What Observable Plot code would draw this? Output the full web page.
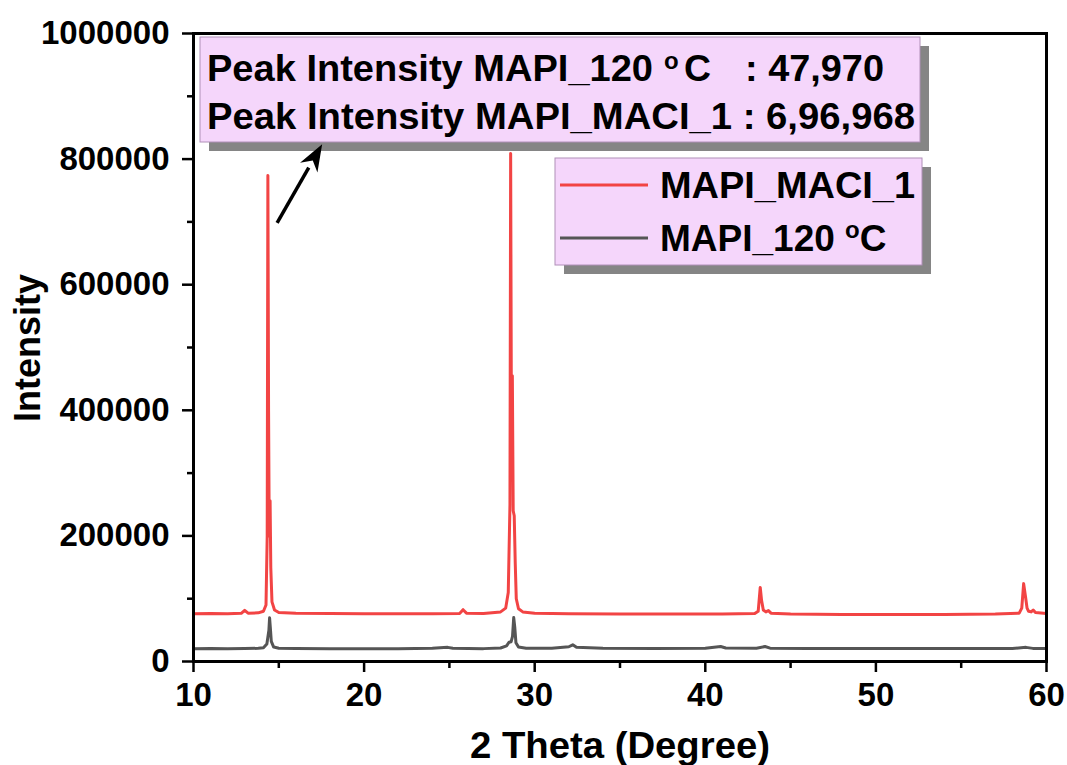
<!DOCTYPE html>
<html><head><meta charset="utf-8">
<script src="https://cdn.jsdelivr.net/npm/d3@7"></script>
<script src="https://cdn.jsdelivr.net/npm/@observablehq/plot@0.6"></script>
<style>
body{margin:0;background:#fff}
svg{font-family:"Liberation Sans",Arial,Helvetica,sans-serif}
</style>
</head><body><div id="chart"></div>
<script>
// ---- data ----
const maciX = [10.0,11.0,12.0,12.8,13.0,13.2,13.8,14.1,14.25,14.32,14.36,14.40,14.44,14.49,14.53,14.6,14.75,15.0,16.0,18.0,20.0,22.0,24.0,25.6,25.8,26.0,27.0,28.0,28.3,28.45,28.55,28.59,28.64,28.69,28.74,28.8,28.86,28.92,29.05,29.3,30.0,32.0,35.0,38.0,41.0,42.9,43.1,43.22,43.3,43.4,43.55,43.7,43.85,45.0,48.0,51.0,54.0,57.0,58.4,58.55,58.66,58.78,58.86,58.95,59.1,59.22,59.35,60.0];
const maciY = [76000,76500,76200,76800,81500,77000,77500,80000,90000,200000,774000,400000,200000,256000,150000,95000,82000,78000,77000,76500,76000,76200,76000,76500,82500,77000,76500,79000,85000,110000,250000,809000,330000,455000,240000,232000,156000,100000,84000,79000,77000,76000,75500,75500,75500,76500,80000,118000,97000,82000,79000,81000,77000,75500,75000,75000,75000,75500,77000,85000,124000,101000,85000,80000,79000,82000,78000,76500];
const t120X = [10.0,11.0,12.0,13.0,13.8,14.1,14.3,14.42,14.46,14.5,14.56,14.7,15.0,16.0,18.0,20.0,22.0,24.0,24.9,25.2,27.0,28.0,28.35,28.5,28.62,28.7,28.77,28.83,28.9,29.05,29.5,31.0,32.0,32.23,32.45,34.0,37.0,40.0,40.9,41.2,43.0,43.5,43.8,46.0,50.0,54.0,58.0,58.8,59.2,60.0];
const t120Y = [20500,20800,20300,20600,21000,22000,28000,50000,69500,55000,32000,23000,21200,20600,20400,20200,20500,21000,22500,21000,20500,21500,25000,30700,31500,40000,70000,55000,30000,23000,21000,21000,23500,26500,22500,21000,20800,21000,23900,21500,21200,23800,21200,20800,20800,20600,20800,22500,20900,20800];
const seriesNames = ["MAPI_MACI_1", "MAPI_120 "];
const seriesColors = ["#f24444", "#555555"];
const xTicks = [10,20,30,40,50,60];
const xMinor = [15,25,35,45,55];
const yTicks = [0,200000,400000,600000,800000,1000000];
const yMinor = [100000,300000,500000,700000,900000];
const xTitle = "2 Theta (Degree)";
const yTitle = "Intensity";
const noteLine1 = ["Peak Intensity MAPI_120", ": 47,970"];
const noteLine2 = "Peak Intensity MAPI_MACI_1 : 6,96,968";
const arrowFrom = {x: 14.93, y: 697500};
const arrowTo = {x: 17.57, y: 823000};

const maci = maciX.map((x, i) => ({x, y: maciY[i]}));
const t120 = t120X.map((x, i) => ({x, y: t120Y[i]}));

const plot = Plot.plot({
  width: 1067, height: 765,
  marginLeft: 193, marginRight: 21, marginTop: 33, marginBottom: 104,
  x: {domain: [10, 60]},
  y: {domain: [0, 1000000]},
  style: {background: "white", fontFamily: "'Liberation Sans',Arial,sans-serif"},
  marks: [
    Plot.line(t120, {x: "x", y: "y", stroke: seriesColors[1], strokeWidth: 3}),
    Plot.line(maci, {x: "x", y: "y", stroke: seriesColors[0], strokeWidth: 3}),
    Plot.axisX({ticks: xTicks, tickSize: 11, tickPadding: 10, fontSize: 33, fontWeight: "bold", fill: "black", stroke: "black", strokeWidth: 2.5, label: null, tickFormat: d => String(d)}),
    Plot.axisX({ticks: xMinor, tickSize: 7, stroke: "black", strokeWidth: 2.5, label: null, tickFormat: () => ""}),
    Plot.axisY({ticks: yTicks, tickSize: 11, tickPadding: 13, fontSize: 33, fontWeight: "bold", fill: "black", stroke: "black", strokeWidth: 2.5, label: null, tickFormat: d3.format("d")}),
    Plot.axisY({ticks: yMinor, tickSize: 6, stroke: "black", strokeWidth: 2.5, label: null, tickFormat: () => ""}),
    Plot.frame({stroke: "black", strokeWidth: 3})
  ]
});
document.getElementById("chart").appendChild(plot);

const svg = d3.select(plot);
const sx = plot.scale("x"), sy = plot.scale("y");
const font = "'Liberation Sans',Arial,sans-serif";

function label(x, y, size, len) {
  const t = svg.append("text").attr("x", x).attr("y", y).attr("text-anchor", "start")
    .attr("font-size", size).attr("font-weight", "bold").attr("font-family", font);
  if (len) t.attr("textLength", len).attr("lengthAdjust", "spacingAndGlyphs");
  return t;
}

// axis titles
svg.append("text").attr("x", 620).attr("y", 758).attr("text-anchor", "middle")
  .attr("font-size", 37).attr("font-weight", "bold").attr("font-family", font)
  .attr("textLength", 300).attr("lengthAdjust", "spacingAndGlyphs").text(xTitle);
svg.append("text").attr("transform", "translate(40,348) rotate(-90)").attr("text-anchor", "middle")
  .attr("font-size", 36).attr("font-weight", "bold").attr("font-family", font).text(yTitle);

// boxes
function box(x, y, w, h, off) {
  svg.append("rect").attr("x", x + off).attr("y", y + off).attr("width", w).attr("height", h).attr("fill", "#858585");
  svg.append("rect").attr("x", x).attr("y", y).attr("width", w).attr("height", h)
    .attr("fill", "#f5d6fb").attr("stroke", "#b090b8").attr("stroke-width", 1);
}
box(200, 37, 720, 105, 9);
label(207, 81, 36, 446).text(noteLine1[0]);
label(664, 69, 24).text("o");
label(684, 81, 36, 27).text("C");
label(745, 81, 36, 139).text(noteLine1[1]);
label(207, 129, 36, 708).text(noteLine2);

// legend
box(555, 158, 367, 107, 9);
const legY = [185, 238];
seriesNames.forEach((name, i) => {
  svg.append("line").attr("x1", 560).attr("x2", 648).attr("y1", legY[i]).attr("y2", legY[i])
    .attr("stroke", seriesColors[i]).attr("stroke-width", 3);
  const t = label(660, legY[i] + 13, 37, i === 0 ? 255 : null);
  t.append("tspan").text(name);
  if (i === 1) {
    t.append("tspan").attr("font-size", 24).attr("dy", -13).text("o");
    t.append("tspan").attr("dy", 13).text("C");
  }
});

// arrow (drawn over the box shadow)
const ax1 = sx.apply(arrowFrom.x), ay1 = sy.apply(arrowFrom.y);
const ax2 = sx.apply(arrowTo.x), ay2 = sy.apply(arrowTo.y);
const ang = Math.atan2(ay2 - ay1, ax2 - ax1);
const hl = 27, hw = 10;
const bx = ax2 - hl * Math.cos(ang), by = ay2 - hl * Math.sin(ang);
svg.append("line").attr("x1", ax1).attr("y1", ay1).attr("x2", bx).attr("y2", by)
  .attr("stroke", "black").attr("stroke-width", 3.5);
svg.append("polygon").attr("fill", "black").attr("points", [
  [ax2, ay2],
  [bx + hw * Math.sin(ang), by - hw * Math.cos(ang)],
  [bx + 0.3*hl*Math.cos(ang), by + 0.3*hl*Math.sin(ang)],
  [bx - hw * Math.sin(ang), by + hw * Math.cos(ang)]
].map(p => p.join(",")).join(" "));
</script>
</body></html>
